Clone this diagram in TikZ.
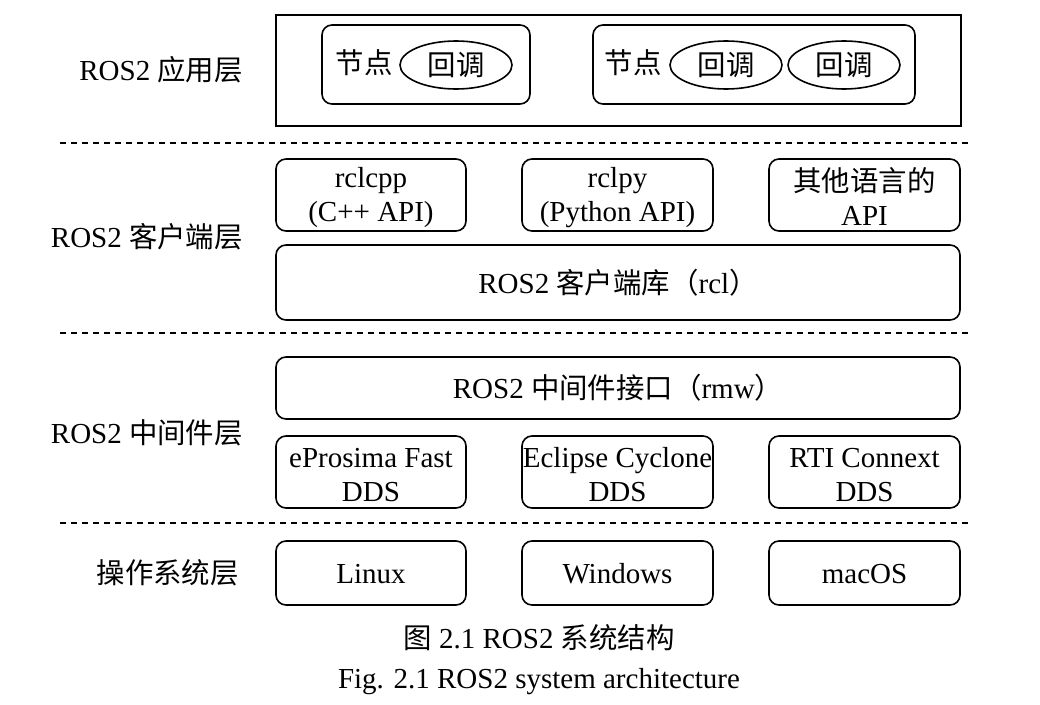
\documentclass[tikz,border=0pt]{standalone}
\usepackage{fontspec}
\setmainfont{Liberation Serif}
\newfontfamily\cjk[Scale=0.98]{Noto Sans CJK SC}
\usetikzlibrary{shapes.geometric}
\begin{document}
\begin{tikzpicture}[x=1pt,y=-1pt,
  every node/.style={font=\fontsize{29}{34}\selectfont, inner sep=0pt},
  rbox/.style={draw, line width=1.6pt, rounded corners=10pt, align=center},
  sbox/.style={draw, line width=1.6pt, align=center},
  ell/.style={draw, line width=1.6pt, ellipse, minimum width=112pt, minimum height=48pt},
  lab/.style={anchor=east},
  two/.style={align=center},
  sep/.style={dashed, dash pattern=on 6pt off 5pt, line width=1.3pt}]
\useasboundingbox (0,0) rectangle (1040,704);
% application layer
\node[sbox, minimum width=685pt, minimum height=111pt] (app) at (618.5,70.5) {};
\node[rbox, minimum width=208pt, minimum height=79pt] (n1) at (426,64.5) {};
\node[rbox, minimum width=322pt, minimum height=79pt] (n2) at (754,64.5) {};
\node (t1) at (364,63) {\cjk 节点};
\node (t2) at (633,63) {\cjk 节点};
\node[ell] (e1) at (456,65) {\cjk 回调};
\node[ell] (e2) at (726,65) {\cjk 回调};
\node[ell] (e3) at (844,65) {\cjk 回调};
\node[lab] (L1) at (243,70) {ROS2 {\cjk 应用层}};
% separators
\coordinate (s1a) at (60,143); \coordinate (s1b) at (972,143);
\coordinate (s2a) at (60,333); \coordinate (s2b) at (972,333);
\coordinate (s3a) at (60,523); \coordinate (s3b) at (972,523);
\draw[sep] (s1a) -- (s1b);
\draw[sep] (s2a) -- (s2b);
\draw[sep] (s3a) -- (s3b);
% client layer
\node[rbox, minimum width=190pt, minimum height=72pt] (rclcpp) at (371,195) {};
\node[rbox, minimum width=191pt, minimum height=72pt] (rclpy) at (617.5,195) {};
\node[rbox, minimum width=191pt, minimum height=72pt] (other) at (864.5,195) {};
\node[two] (rclcppT) at ([yshift=-3pt]rclcpp.center) {rclcpp\\(C++ API)};
\node[two] (rclpyT) at ([yshift=-3pt]rclpy.center) {rclpy\\(Python API)};
\node[two] (otherT) at ([yshift=-2pt]other.center) {{\cjk 其他语言的}\\API};
\node[rbox, minimum width=684pt, minimum height=75pt] (rcl) at (618,282.5) {ROS2 {\cjk 客户端库（}rcl{\cjk ）}};
\node[lab] (L2) at (243,237) {ROS2 {\cjk 客户端层}};
% middleware layer
\node[rbox, minimum width=684pt, minimum height=62pt] (rmw) at (618,388) {ROS2 {\cjk 中间件接口（}rmw{\cjk ）}};
\node[rbox, minimum width=190pt, minimum height=72pt] (fast) at (371,472) {};
\node[rbox, minimum width=191pt, minimum height=72pt] (cyc) at (617.5,472) {};
\node[rbox, minimum width=191pt, minimum height=72pt] (rti) at (864.5,472) {};
\node[two] (fastT) at ([yshift=-3pt]fast.center) {eProsima Fast\\DDS};
\node[two] (cycT) at ([yshift=-3pt]cyc.center) {Eclipse Cyclone\\DDS};
\node[two] (rtiT) at ([yshift=-3pt]rti.center) {RTI Connext\\DDS};
\node[lab] (L3) at (243,433) {ROS2 {\cjk 中间件层}};
% OS layer
\node[rbox, minimum width=190pt, minimum height=64pt] (linux) at (371,573) {};
\node[rbox, minimum width=191pt, minimum height=64pt] (win) at (617.5,573) {};
\node[rbox, minimum width=191pt, minimum height=64pt] (mac) at (864.5,573) {};
\node (linuxT) at ([yshift=-1pt]linux.center) {Linux};
\node (winT) at ([yshift=-1pt]win.center) {Windows};
\node (macT) at ([yshift=-1pt]mac.center) {macOS};
\node[lab] (L4) at (239,573) {\cjk 操作系统层};
% captions
\node (cap1) at (539,638) {{\cjk 图} 2.1 ROS2 {\cjk 系统结构}};
\node (cap2) at (539,682) {Fig. 2.1 ROS2 system architecture};
\end{tikzpicture}
\end{document}
